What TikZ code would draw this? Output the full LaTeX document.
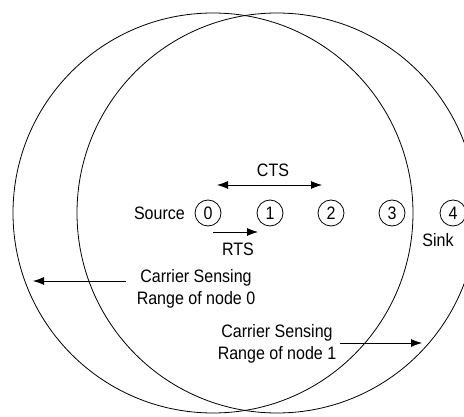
\documentclass[tikz,border=0pt]{standalone}
\usepackage{fontspec}
\setmainfont[FakeStretch=0.89]{Liberation Sans}
\usetikzlibrary{arrows.meta}
\begin{document}
\begin{tikzpicture}[x=1pt,y=-1pt,
  every node/.style={font=\fontsize{18}{22.5}\selectfont},
  rangecircle/.style={draw, line width=0.8pt},
  sensor/.style={draw, circle, line width=0.8pt, minimum size=26pt, inner sep=0pt},
  lbl/.style={inner sep=0pt},
  arr/.style={line width=0.8pt, -{Latex[length=11pt,width=8pt]}},
  darr/.style={line width=0.8pt, {Latex[length=11pt,width=8pt]}-{Latex[length=11pt,width=8pt]}}]
\useasboundingbox (0,0) rectangle (464,417);
\begin{scope}
\clip (0,0) rectangle (464,417);
\draw[rangecircle] (213,213) circle[radius=200];
\draw[rangecircle] (277,213) circle[radius=200];
\end{scope}
\node[sensor] (n0) at (208,213) {0};
\node[sensor] (n1) at (270,213) {1};
\node[sensor] (n2) at (331,213) {2};
\node[sensor] (n3) at (392,213) {3};
\node[sensor] (n4) at (453,213) {4};
\node[lbl, anchor=east] (src) at (185,213) {Source};
\node[lbl] (sink) at (438,240) {Sink};
\coordinate (ctsA) at (217,185);
\coordinate (ctsB) at (322,185);
\draw[darr] (ctsA) -- (ctsB);
\node[lbl] (cts) at (273,170) {CTS};
\coordinate (rtsA) at (213,232);
\coordinate (rtsB) at (258,232);
\draw[arr] (rtsA) -- (rtsB);
\node[lbl] (rts) at (238,249) {RTS};
\node[lbl, align=center] (cs0) at (196,289) {Carrier Sensing\\Range of node 0};
\node[lbl, align=center] (cs1) at (277,344) {Carrier Sensing\\Range of node 1};
\coordinate (s0) at (126,281);
\coordinate (e0) at (33,281);
\coordinate (s1) at (340,343);
\coordinate (e1) at (422,343);
\draw[arr] (s0) -- (e0);
\draw[arr] (s1) -- (e1);
\end{tikzpicture}
\end{document}
